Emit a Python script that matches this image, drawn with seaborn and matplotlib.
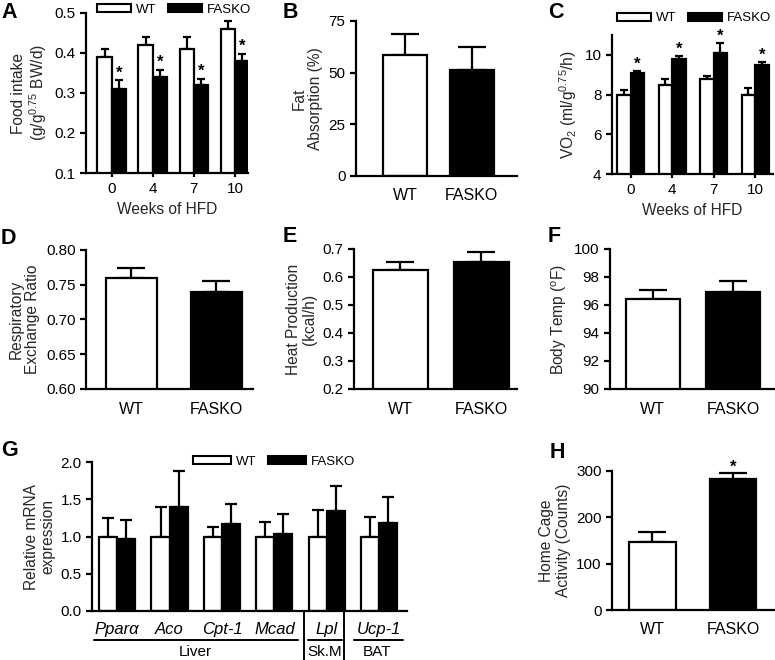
import numpy as np
import pandas as pd
import matplotlib.pyplot as plt
import seaborn as sns
from matplotlib.patches import Patch

# %%
groups = ['WT', 'FASKO']
weeks = ['0', '4', '7', '10']

# A - food intake
food_wt = [0.39, 0.42, 0.41, 0.46]
food_wt_err = [0.02, 0.02, 0.03, 0.02]
food_ko = [0.31, 0.34, 0.32, 0.38]
food_ko_err = [0.022, 0.018, 0.016, 0.018]

# B - fat absorption
fat = [58.5, 51.5]
fat_err = [10.0, 11.0]

# C - VO2
vo2_wt = [8.0, 8.5, 8.8, 8.0]
vo2_wt_err = [0.25, 0.3, 0.15, 0.35]
vo2_ko = [9.1, 9.8, 10.1, 9.5]
vo2_ko_err = [0.1, 0.15, 0.5, 0.12]

# D, E, F, H
rer = [0.76, 0.74]
rer_err = [0.014, 0.016]
heat = [0.625, 0.655]
heat_err = [0.03, 0.035]
temp = [96.4, 96.9]
temp_err = [0.7, 0.8]
activity = [147, 282]
activity_err = [22, 13]

# G - mRNA
genes = ['Ppar\u03b1', 'Aco', 'Cpt-1', 'Mcad', 'Lpl', 'Ucp-1']
mrna_wt = [1.0, 1.0, 1.0, 1.0, 1.0, 1.0]
mrna_wt_err = [0.25, 0.4, 0.13, 0.2, 0.36, 0.26]
mrna_ko = [0.96, 1.40, 1.17, 1.03, 1.34, 1.18]
mrna_ko_err = [0.26, 0.48, 0.26, 0.27, 0.34, 0.35]

# %%
sns.set_style('ticks')
plt.rcParams['font.family'] = ['Liberation Sans', 'DejaVu Sans']
plt.rcParams['mathtext.default'] = 'regular'
plt.rcParams['axes.linewidth'] = 1.6
plt.rcParams['xtick.major.width'] = 1.6
plt.rcParams['ytick.major.width'] = 1.6
plt.rcParams['ytick.major.size'] = 4
plt.rcParams['xtick.major.size'] = 4
plt.rcParams['xtick.labelsize'] = 11
plt.rcParams['ytick.labelsize'] = 11
plt.rcParams['axes.labelsize'] = 11.2
plt.rcParams['text.color'] = 'black'
plt.rcParams['xtick.color'] = 'black'
plt.rcParams['ytick.color'] = 'black'
plt.rcParams['axes.edgecolor'] = 'black'

W, H = 775, 660
fig = plt.figure(figsize=(7.75, 6.6), dpi=100)
pal = {'WT': 'white', 'FASKO': 'black'}


def add_ax(l, r, t, b):
    return fig.add_axes([l / W, 1 - b / H, (r - l) / W, (b - t) / H])


def errs(ax, containers, err_list, cap):
    for cont, err in zip(containers, err_list):
        for bar, e in zip(cont, err):
            x = bar.get_x() + bar.get_width() / 2
            y = bar.get_height()
            ax.errorbar(x, y, yerr=[[0], [e]], fmt='none', ecolor='black',
                        elinewidth=1.6, capsize=cap, capthick=1.6, zorder=1)


def stars(ax, cont, vals, err, off):
    for bar, v, e in zip(cont, vals, err):
        ax.text(bar.get_x() + bar.get_width() / 2, v + e + off, '*', ha='center',
                va='center', fontsize=12, fontweight='bold')


def legend(ax, x, y, hl, fs=9.5):
    handles = [Patch(facecolor='white', edgecolor='black', linewidth=1.5),
               Patch(facecolor='black', edgecolor='black', linewidth=1.5)]
    ax.legend(handles, groups, ncol=2, frameon=False, loc='center left',
              bbox_to_anchor=(x, y), borderpad=0, borderaxespad=0,
              handlelength=hl, handleheight=0.55, handletextpad=0.35,
              columnspacing=0.9, fontsize=fs)


def two_bar(ax, vals, err, width, ylim, ticks, ylabel, xlim, cap, star=False):
    df = pd.DataFrame({'group': groups, 'val': vals})
    sns.barplot(data=df, x='group', y='val', hue='group', palette=pal,
                edgecolor='black', linewidth=1.6, width=width, legend=False,
                ax=ax, zorder=2)
    conts = [c for c in ax.containers]
    errs(ax, conts, [[e] for e in err], cap)
    if star:
        stars(ax, conts[1], [vals[1]], [err[1]], (ylim[1] - ylim[0]) * 0.045)
    ax.set_ylim(ylim)
    ax.set_yticks(ticks)
    ax.set_xlim(xlim)
    ax.set_xlabel('')
    ax.set_ylabel(ylabel, linespacing=1.1)
    ax.tick_params(axis='x', length=0, pad=9, labelsize=11.5)
    sns.despine(ax=ax)


def grouped(ax, cats, wt, ko, width):
    df = pd.DataFrame({'cat': cats * 2, 'group': ['WT'] * len(cats) + ['FASKO'] * len(cats),
                       'val': wt + ko})
    sns.barplot(data=df, x='cat', y='val', hue='group', palette=pal,
                edgecolor='black', linewidth=1.6, width=width, legend=False,
                ax=ax, zorder=2)
    return df


# %% A
axA = add_ax(86, 248, 13, 173)
grouped(axA, weeks, food_wt, food_ko, 0.7)
errs(axA, axA.containers, [food_wt_err, food_ko_err], 3)
stars(axA, axA.containers[1], food_ko, food_ko_err, 0.018)
axA.set_ylim(0.1, 0.5)
axA.set_yticks([0.1, 0.2, 0.3, 0.4, 0.5])
axA.set_xlim(-0.63, 3.32)
axA.set_xlabel('Weeks of HFD', labelpad=4)
axA.set_ylabel('Food intake\n(g/g$^{0.75}$ BW/d)', linespacing=1.1)
axA.tick_params(axis='x', length=3)
sns.despine(ax=axA)
legend(axA, 0.065, 1.02, 2.6)

# %% B
axB = add_ax(356, 517, 21, 176)
two_bar(axB, fat, fat_err, 0.66, (0, 75), [0, 25, 50, 75], 'Fat\nAbsorption (%)',
        (-0.74, 1.68), 10)

# %% C
axC = add_ax(612, 773, 35, 174)
grouped(axC, weeks, vo2_wt, vo2_ko, 0.65)
errs(axC, axC.containers, [vo2_wt_err, vo2_ko_err], 3)
stars(axC, axC.containers[1], vo2_ko, vo2_ko_err, 0.35)
axC.set_ylim(4, 11)
axC.set_yticks([4, 6, 8, 10])
axC.set_xlim(-0.45, 3.43)
axC.set_xlabel('Weeks of HFD', labelpad=4)
axC.set_ylabel('VO$_2$ (ml/g$^{0.75}$/h)')
axC.tick_params(axis='x', length=3)
sns.despine(ax=axC)
legend(axC, 0.03, 1.12, 2.6)

# %% D, E, F
axD = add_ax(86, 253, 250, 389)
two_bar(axD, rer, rer_err, 0.6, (0.6, 0.8), [0.60, 0.65, 0.70, 0.75, 0.80],
        'Respiratory\nExchange Ratio', (-0.53, 1.43), 10)
axD.set_yticklabels(['0.60', '0.65', '0.70', '0.75', '0.80'])

axE = add_ax(354, 517, 249, 389)
two_bar(axE, heat, heat_err, 0.68, (0.2, 0.7), [0.2, 0.3, 0.4, 0.5, 0.6, 0.7],
        'Heat Production\n(kcal/h)', (-0.57, 1.44), 10)

axF = add_ax(610, 775, 249, 389)
two_bar(axF, temp, temp_err, 0.67, (90, 100), [90, 92, 94, 96, 98, 100],
        'Body Temp ($^{o}$F)', (-0.53, 1.52), 10)

# %% G
axG = add_ax(92, 407, 462, 611)
grouped(axG, genes, mrna_wt, mrna_ko, 0.69)
errs(axG, axG.containers, [mrna_wt_err, mrna_ko_err], 4)
axG.set_ylim(0, 2.0)
axG.set_yticks([0.0, 0.5, 1.0, 1.5, 2.0])
axG.set_xlim(-0.48, 5.53)
axG.set_xlabel('')
axG.set_ylabel('Relative mRNA\nexpression', linespacing=1.1)
axG.tick_params(axis='x', length=0, pad=8, labelsize=12)
for lab in axG.get_xticklabels():
    lab.set_fontstyle('italic')
sns.despine(ax=axG)
legend(axG, 0.32, 1.0, 2.9)

tr = axG.get_xaxis_transform()
# tissue underlines and separators
for a, b in [(0 - 0.44, 3 + 0.45), (4 - 0.36, 4 + 0.29), (5 - 0.48, 5 + 0.46)]:
    axG.plot([a, b], [-0.195, -0.195], color='black', lw=1.4, transform=tr, clip_on=False)
for s in [3.57, 4.33]:
    axG.plot([s, s], [0, -0.34], color='black', lw=1.4, transform=tr, clip_on=False)
for x, t in [(1.5, 'Liver'), (3.96, 'Sk.M'), (4.95, 'BAT')]:
    axG.text(x, -0.275, t, ha='center', va='center', fontsize=11, transform=tr)

# %% H
axH = add_ax(612, 775, 471, 610)
two_bar(axH, activity, activity_err, 0.58, (0, 300), [0, 100, 200, 300],
        'Home Cage\nActivity (Counts)', (-0.5, 1.52), 10, star=True)

# %% panel letters
for x, y, t in [(1, 12, 'A'), (283, 12, 'B'), (548, 12, 'C'),
                (1, 239, 'D'), (283, 236, 'E'), (548, 236, 'F'),
                (1, 450, 'G'), (550, 452, 'H')]:
    fig.text(x / W, 1 - y / H, t, fontsize=15.5, fontweight='bold', va='center', ha='left')

fig.savefig('out.png', dpi=100)
